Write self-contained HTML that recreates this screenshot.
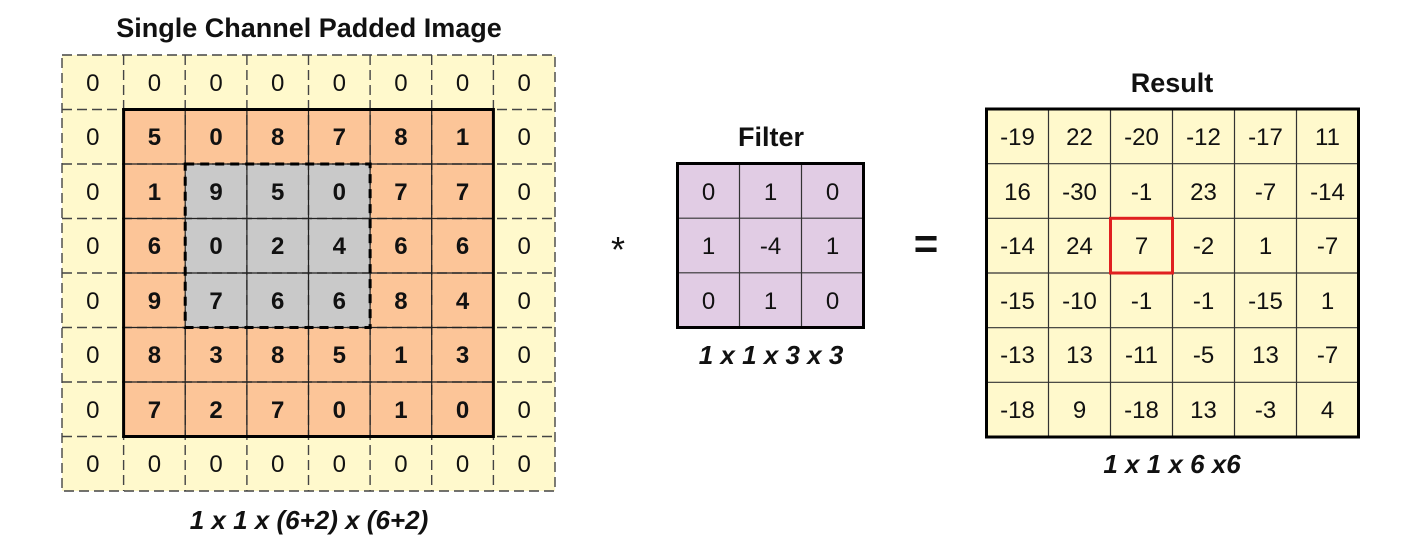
<!DOCTYPE html>
<html><head><style>html,body{margin:0;padding:0;background:#fff;}svg{display:block}</style></head>
<body>
<svg width="1426" height="551" xmlns="http://www.w3.org/2000/svg" font-family="Liberation Sans, sans-serif">
<rect width="1426" height="551" fill="#fff"/>
<g id="pad">
<rect x="62" y="55" width="493" height="436" fill="#fff9cc"/>
<rect x="123.6" y="109.5" width="370" height="327" fill="#fcc598"/>
<rect x="185.2" y="164" width="184.8" height="164" fill="#c9c9c9"/>
<g stroke="#444" stroke-width="1.4" stroke-dasharray="10,5" fill="none">
<rect x="62" y="55" width="493" height="436"/>
<path d="M123.6 55V491M185.2 55V491M246.9 55V491M308.5 55V491M370.1 55V491M431.7 55V491M493.4 55V491"/>
<path d="M62 109.5H555M62 164H555M62 218.5H555M62 273H555M62 327.5H555M62 382H555M62 436.5H555"/>
</g>
<g stroke="#222" stroke-width="1.2" fill="none">
<path d="M185.2 109.5V436.5M246.9 109.5V436.5M308.5 109.5V436.5M370.1 109.5V436.5M431.7 109.5V436.5"/>
<path d="M123.6 164H493.4M123.6 218.5H493.4M123.6 273H493.4M123.6 327.5H493.4M123.6 382H493.4"/>
</g>
<rect x="123.6" y="109.5" width="369.8" height="327" fill="none" stroke="#000" stroke-width="3"/>
<rect x="185.2" y="164" width="184.9" height="163.5" fill="none" stroke="#000" stroke-width="3" stroke-dasharray="9,6"/>
<g font-size="24" text-anchor="middle" fill="#111">
<text x="92.8" y="91">0</text><text x="154.4" y="91">0</text><text x="216" y="91">0</text><text x="277.7" y="91">0</text><text x="339.3" y="91">0</text><text x="400.9" y="91">0</text><text x="462.5" y="91">0</text><text x="524.2" y="91">0</text>
<text x="92.8" y="472">0</text><text x="154.4" y="472">0</text><text x="216" y="472">0</text><text x="277.7" y="472">0</text><text x="339.3" y="472">0</text><text x="400.9" y="472">0</text><text x="462.5" y="472">0</text><text x="524.2" y="472">0</text>
<text x="92.8" y="145">0</text><text x="92.8" y="200">0</text><text x="92.8" y="254">0</text><text x="92.8" y="309">0</text><text x="92.8" y="363">0</text><text x="92.8" y="418">0</text>
<text x="524.2" y="145">0</text><text x="524.2" y="200">0</text><text x="524.2" y="254">0</text><text x="524.2" y="309">0</text><text x="524.2" y="363">0</text><text x="524.2" y="418">0</text>
</g>
<g font-size="24" font-weight="bold" text-anchor="middle" fill="#111">
<text x="154.4" y="145">5</text><text x="216" y="145">0</text><text x="277.7" y="145">8</text><text x="339.3" y="145">7</text><text x="400.9" y="145">8</text><text x="462.5" y="145">1</text>
<text x="154.4" y="200">1</text><text x="216" y="200">9</text><text x="277.7" y="200">5</text><text x="339.3" y="200">0</text><text x="400.9" y="200">7</text><text x="462.5" y="200">7</text>
<text x="154.4" y="254">6</text><text x="216" y="254">0</text><text x="277.7" y="254">2</text><text x="339.3" y="254">4</text><text x="400.9" y="254">6</text><text x="462.5" y="254">6</text>
<text x="154.4" y="309">9</text><text x="216" y="309">7</text><text x="277.7" y="309">6</text><text x="339.3" y="309">6</text><text x="400.9" y="309">8</text><text x="462.5" y="309">4</text>
<text x="154.4" y="363">8</text><text x="216" y="363">3</text><text x="277.7" y="363">8</text><text x="339.3" y="363">5</text><text x="400.9" y="363">1</text><text x="462.5" y="363">3</text>
<text x="154.4" y="418">7</text><text x="216" y="418">2</text><text x="277.7" y="418">7</text><text x="339.3" y="418">0</text><text x="400.9" y="418">1</text><text x="462.5" y="418">0</text>
</g>
<text x="309" y="37" font-size="27" font-weight="bold" text-anchor="middle" fill="#111">Single Channel Padded Image</text>
<text x="309" y="529" font-size="26" font-weight="bold" font-style="italic" text-anchor="middle" fill="#111">1 x 1 x (6+2) x (6+2)</text>
</g>
<text x="618" y="262" font-size="36" text-anchor="middle" fill="#111">*</text>
<g>
<rect x="677.5" y="163.5" width="186" height="164" fill="#e1cce4"/>
<g stroke="#333" stroke-width="1.2"><path d="M739.5 163.5V327.5M801.5 163.5V327.5M677.5 218.2H863.5M677.5 272.8H863.5"/></g>
<rect x="677.5" y="163.5" width="186" height="164" fill="none" stroke="#000" stroke-width="3"/>
<g font-size="24" text-anchor="middle" fill="#111">
<text x="708.5" y="200">0</text><text x="770.5" y="200">1</text><text x="832.5" y="200">0</text>
<text x="708.5" y="254">1</text><text x="770.5" y="254">-4</text><text x="832.5" y="254">1</text>
<text x="708.5" y="309">0</text><text x="770.5" y="309">1</text><text x="832.5" y="309">0</text>
</g>
<text x="771" y="146" font-size="27" font-weight="bold" text-anchor="middle" fill="#111">Filter</text>
<text x="771" y="364" font-size="26" font-weight="bold" font-style="italic" text-anchor="middle" fill="#111">1 x 1 x 3 x 3</text>
</g>
<text x="926" y="258" font-size="42" font-weight="bold" text-anchor="middle" fill="#111">=</text>
<g>
<rect x="986.5" y="109" width="372" height="328" fill="#fff9cc"/>
<g stroke="#333" stroke-width="1.2"><path d="M1048.5 109V437M1110.5 109V437M1172.5 109V437M1234.5 109V437M1296.5 109V437M986.5 163.7H1358.5M986.5 218.3H1358.5M986.5 273H1358.5M986.5 327.7H1358.5M986.5 382.3H1358.5"/></g>
<rect x="986.5" y="109" width="372" height="328" fill="none" stroke="#000" stroke-width="3"/>
<rect x="1110.5" y="218.3" width="62" height="54.7" fill="none" stroke="#e02020" stroke-width="3"/>
<g font-size="24" text-anchor="middle" fill="#111">
<text x="1017.5" y="145">-19</text><text x="1079.5" y="145">22</text><text x="1141.5" y="145">-20</text><text x="1203.5" y="145">-12</text><text x="1265.5" y="145">-17</text><text x="1327.5" y="145">11</text>
<text x="1017.5" y="200">16</text><text x="1079.5" y="200">-30</text><text x="1141.5" y="200">-1</text><text x="1203.5" y="200">23</text><text x="1265.5" y="200">-7</text><text x="1327.5" y="200">-14</text>
<text x="1017.5" y="254">-14</text><text x="1079.5" y="254">24</text><text x="1141.5" y="254">7</text><text x="1203.5" y="254">-2</text><text x="1265.5" y="254">1</text><text x="1327.5" y="254">-7</text>
<text x="1017.5" y="309">-15</text><text x="1079.5" y="309">-10</text><text x="1141.5" y="309">-1</text><text x="1203.5" y="309">-1</text><text x="1265.5" y="309">-15</text><text x="1327.5" y="309">1</text>
<text x="1017.5" y="363">-13</text><text x="1079.5" y="363">13</text><text x="1141.5" y="363">-11</text><text x="1203.5" y="363">-5</text><text x="1265.5" y="363">13</text><text x="1327.5" y="363">-7</text>
<text x="1017.5" y="418">-18</text><text x="1079.5" y="418">9</text><text x="1141.5" y="418">-18</text><text x="1203.5" y="418">13</text><text x="1265.5" y="418">-3</text><text x="1327.5" y="418">4</text>
</g>
<text x="1172" y="92" font-size="27" font-weight="bold" text-anchor="middle" fill="#111">Result</text>
<text x="1172" y="473" font-size="26" font-weight="bold" font-style="italic" text-anchor="middle" fill="#111">1 x 1 x 6 x6</text>
</g>
</svg>
</body></html>
